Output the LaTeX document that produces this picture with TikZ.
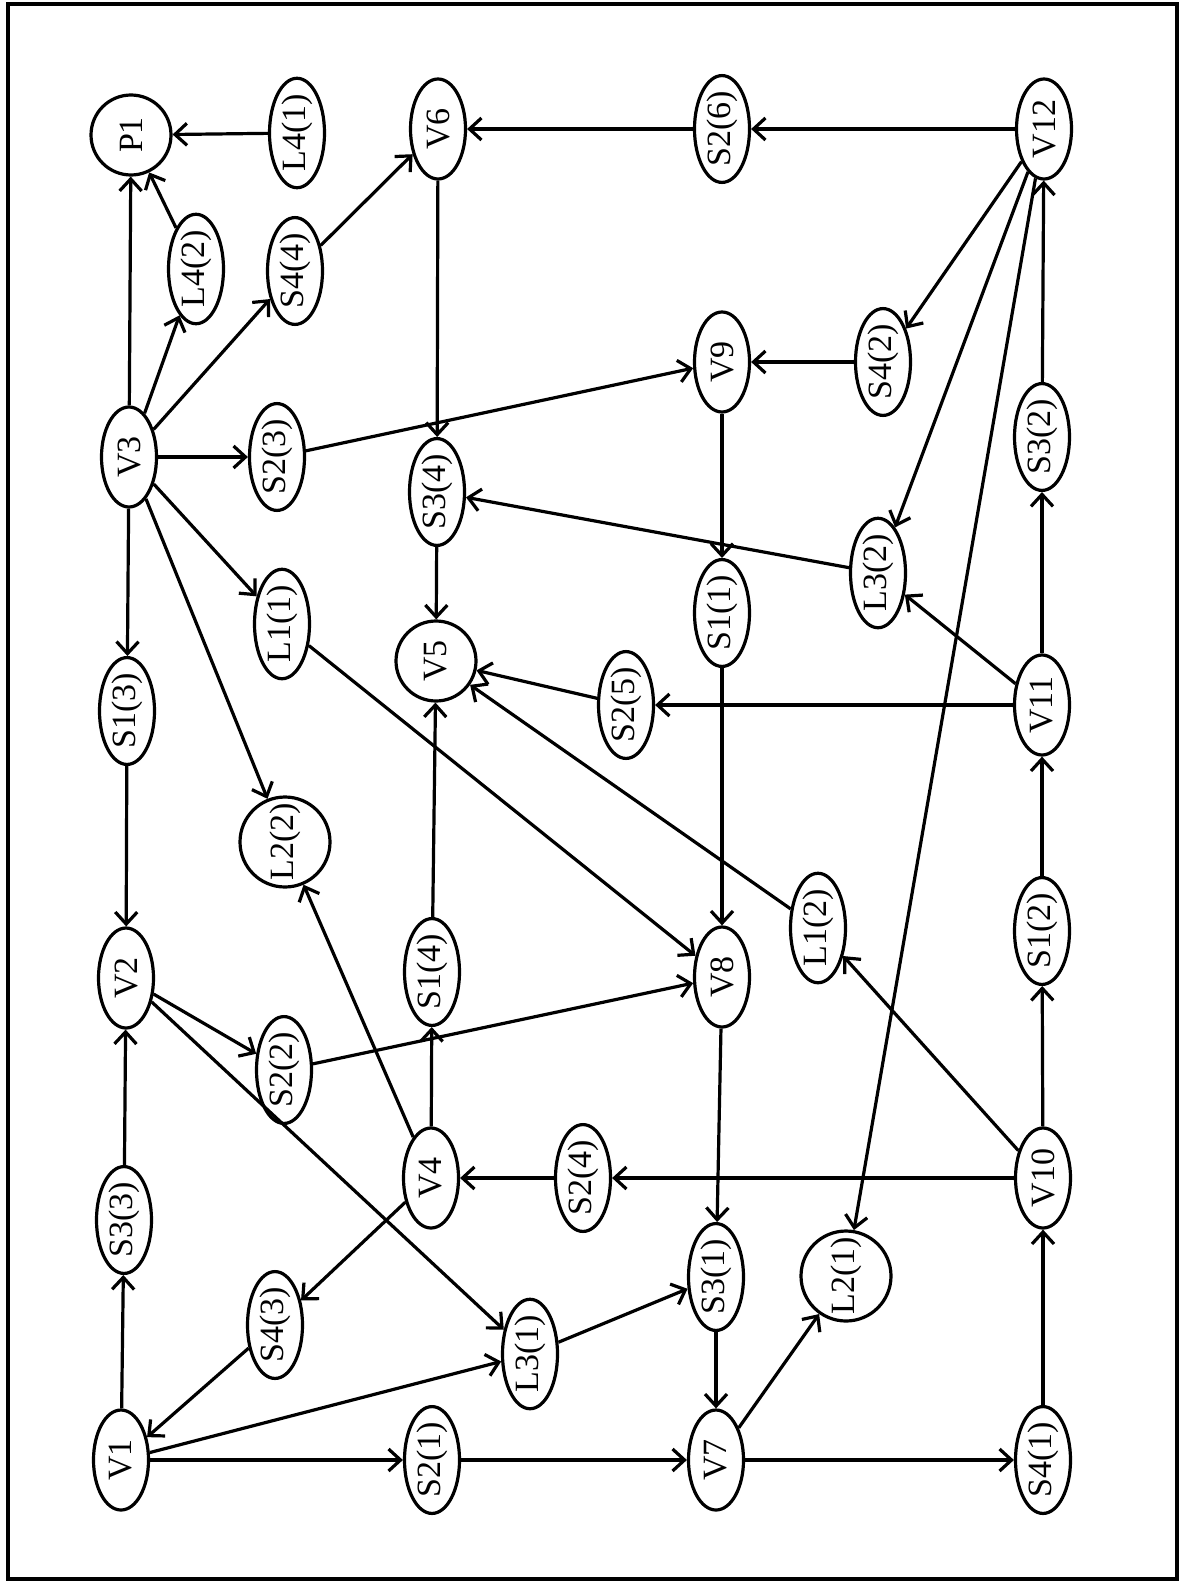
\documentclass[tikz,border=0pt]{standalone}
\usepackage{fontspec}
\setmainfont{Liberation Serif}
\usetikzlibrary{arrows.meta,shapes.geometric}
\begin{document}
\begin{tikzpicture}[x=1pt,y=-1pt,
  lbl/.style={font=\fontsize{34}{36}\selectfont},
  el/.style={ellipse,draw,line width=3.2pt,rotate=90,minimum width=100pt,minimum height=55pt,inner sep=0pt,lbl},
  cir/.style={circle,draw,line width=3.2pt,rotate=90,minimum size=80pt,inner sep=0pt,lbl},
  ar/.style={line width=3.2pt,-{Straight Barb[length=12pt,width=22pt]}}]
\useasboundingbox (0,0) rectangle (1181,1581);
\draw[line width=3.2pt] (8,4) rectangle (1177,1579);
% nodes
\node[cir] (P1) at (131,135) {P1};
\node[el] (L41) at (297,133) {L4(1)};
\node[el] (V6) at (438,129) {V6};
\node[el] (S26) at (722,129) {S2(6)};
\node[el] (V12) at (1044,129) {V12};
\node[el] (L42) at (196,269) {L4(2)};
\node[el] (S44) at (295,271) {S4(4)};
\node[el] (V9) at (722,362) {V9};
\node[el] (S42) at (883,362) {S4(2)};
\node[el] (V3) at (129,457) {V3};
\node[el] (S23) at (277,457) {S2(3)};
\node[el] (S34) at (437,492) {S3(4)};
\node[el] (S32) at (1042,437) {S3(2)};
\node[el] (L32) at (878,573) {L3(2)};
\node[el] (L11) at (282,624) {L1(1)};
\node[el] (S11) at (722,613) {S1(1)};
\node[cir] (V5) at (436,661) {V5};
\node[el] (S25) at (626,705) {S2(5)};
\node[el] (V11) at (1042,705) {V11};
\node[el] (S13) at (127,711) {S1(3)};
\node[cir,minimum size=90pt] (L22) at (285,842) {L2(2)};
\node[el] (L12) at (818,928) {L1(2)};
\node[el] (S12) at (1042,931) {S1(2)};
\node[el] (V2) at (126,978) {V2};
\node[el] (S14) at (432,972) {S1(4)};
\node[el] (V8) at (722,977) {V8};
\node[el] (S22) at (284,1070) {S2(2)};
\node[el] (V4) at (431,1178) {V4};
\node[el] (S24) at (583,1178) {S2(4)};
\node[el] (V10) at (1043,1178) {V10};
\node[el] (S33) at (124,1220) {S3(3)};
\node[el] (S31) at (716,1277) {S3(1)};
\node[cir,minimum size=90pt] (L21) at (846,1276) {L2(1)};
\node[el] (S43) at (275,1325) {S4(3)};
\node[el] (L31) at (530,1354) {L3(1)};
\node[el] (V1) at (121,1460) {V1};
\node[el] (S21) at (432,1460) {S2(1)};
\node[el] (V7) at (716,1460) {V7};
\node[el] (S41) at (1043,1460) {S4(1)};
% edges
\draw[ar] (V3) -- (P1);
\draw[ar] (V3) -- (L42);
\draw[ar] (L42) -- (P1);
\draw[ar] (L41) -- (P1);
\draw[ar] (V3) -- (S44);
\draw[ar] (S44) -- (V6);
\draw[ar] (V3) -- (S23);
\draw[ar] (S23) -- (V9);
\draw[ar] (V3) -- (L11);
\draw[ar] (V3) -- (L22);
\draw[ar] (V3) -- (S13);
\draw[ar] (S13) -- (V2);
\draw[ar] (V6) -- (S34);
\draw[ar] (S34) -- (V5);
\draw[ar] (V12) -- (S26);
\draw[ar] (S26) -- (V6);
\draw[ar] (V12) -- (S42);
\draw[ar] (S42) -- (V9);
\draw[ar] (V12) -- (L32);
\draw[ar] (V12) -- (L21);
\draw[ar] (S32) -- (V12);
\draw[ar] (V11) -- (S32);
\draw[ar] (V11) -- (L32);
\draw[ar] (L32) -- (S34);
\draw[ar] (V11) -- (S25);
\draw[ar] (S25) -- (V5);
\draw[ar] (V9) -- (S11);
\draw[ar] (S11) -- (V8);
\draw[ar] (L11) -- (V8);
\draw[ar] (S12) -- (V11);
\draw[ar] (V10) -- (S12);
\draw[ar] (V10) -- (L12);
\draw[ar] (L12) -- (V5);
\draw[ar] (V10) -- (S24);
\draw[ar] (S24) -- (V4);
\draw[ar] (S41) -- (V10);
\draw[ar] (V7) -- (S41);
\draw[ar] (V4) -- (S14);
\draw[ar] (S14) -- (V5);
\draw[ar] (V4) -- (L22);
\draw[ar] (V4) -- (S43);
\draw[ar] (S43) -- (V1);
\draw[ar] (V2) -- (S22);
\draw[ar] (S22) -- (V8);
\draw[ar] (V2) -- (L31);
\draw[ar] (V1) -- (L31);
\draw[ar] (L31) -- (S31);
\draw[ar] (V8) -- (S31);
\draw[ar] (S31) -- (V7);
\draw[ar] (V7) -- (L21);
\draw[ar] (V1) -- (S21);
\draw[ar] (S21) -- (V7);
\draw[ar] (V1) -- (S33);
\draw[ar] (S33) -- (V2);
\end{tikzpicture}
\end{document}
